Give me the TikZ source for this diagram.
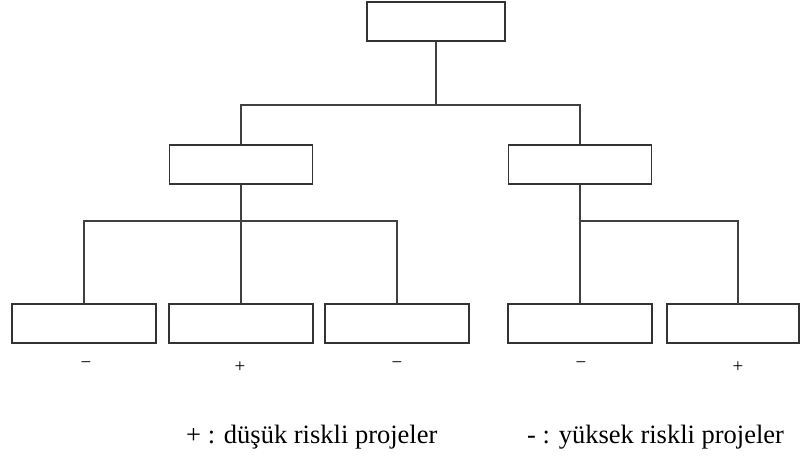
\documentclass[tikz,border=0pt]{standalone}
\usepackage{fontspec}
\setmainfont{Liberation Serif}
\begin{document}
\begin{tikzpicture}[x=1pt,y=-1pt,
  box/.style={draw=black!80, line width=1.4pt, minimum width=#1, minimum height=39pt,
              inner sep=0pt, fill=white},
  link/.style={draw=black!75, line width=1.4pt},
  sign/.style={font=\fontsize{19}{19}\selectfont, inner sep=0pt},
  legend/.style={font=\fontsize{26.5}{30}\selectfont, anchor=base west, inner sep=0pt}]
\useasboundingbox (0,0) rectangle (801,470);

% boxes
\node[box=138pt] (top) at (436,21.5) {};
\node[box=143pt] (ml) at (241,164.5) {};
\node[box=143pt] (mr) at (580,164.5) {};
\node[box=144pt] (b1) at (84,323.5) {};
\node[box=144pt] (b2) at (241,323.5) {};
\node[box=144pt] (b3) at (397,323.5) {};
\node[box=144pt] (b4) at (580,323.5) {};
\node[box=132pt] (b5) at (733,323.5) {};

% junctions
\coordinate (h1) at (436,105);
\coordinate (h2) at (241,221);
\coordinate (h3) at (580,221);
\coordinate (c5) at (738,304);

% connectors
\draw[link] (top.south) -- (h1);
\draw[link] (ml.north) |- (h1);
\draw[link] (mr.north) |- (h1);
\draw[link] (ml.south) -- (h2);
\draw[link] (b1.north) |- (h2);
\draw[link] (b2.north) -- (h2);
\draw[link] (b3.north) |- (h2);
\draw[link] (mr.south) -- (h3);
\draw[link] (b4.north) -- (h3);
\draw[link] (c5) |- (h3);

% signs
\node[sign] (s1) at (86,365) {−};
\node[sign] (s2) at (240,367) {+};
\node[sign] (s3) at (397,365) {−};
\node[sign] (s4) at (581,365) {−};
\node[sign] (s5) at (738,367) {+};

% legend
\node[legend] (l1) at (186,443) {+ : düşük riskli projeler};
\node[legend] (l2) at (527,443) {- : yüksek riskli projeler};
\end{tikzpicture}
\end{document}
